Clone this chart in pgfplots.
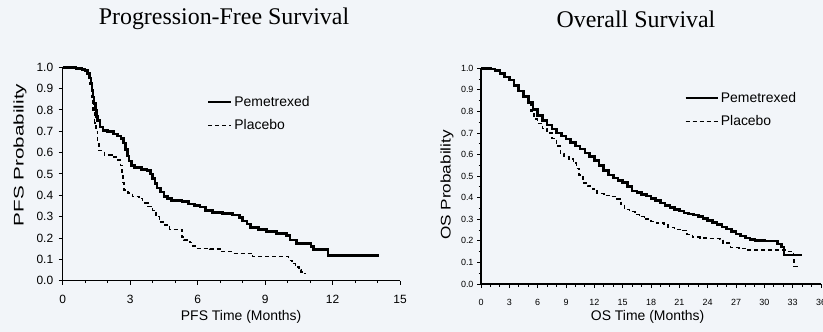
\documentclass[border=0pt]{standalone}
\usepackage{pgfplots}
\pgfplotsset{compat=1.18}
\usepackage{fontspec}
\setmainfont{Liberation Sans}
\newfontfamily\titlefont{Liberation Serif}
\definecolor{bgc}{RGB}{242,245,249}
\begin{document}
\begin{tikzpicture}
\useasboundingbox (0,0) rectangle (823bp,332bp);
\fill[bgc] (0,0) rectangle (823bp,332bp);
\node[anchor=base] at (224bp,307bp) {\titlefont\fontsize{24}{28}\selectfont Progression-Free Survival};
\node[anchor=base] at (636bp,304bp) {\titlefont\fontsize{24}{28}\selectfont Overall Survival};
\pgfplotsset{
  km/.style={
    scale only axis, anchor=south west,
    axis x line=bottom, axis y line=left,
    axis line style={-, line width=1.5bp, black},
    tick align=outside,
    tick style={line width=1bp, black},
    major tick length=4bp, minor tick length=2.5bp,
    /pgf/number format/assume math mode=true,
    yticklabel style={/pgf/number format/fixed, /pgf/number format/fixed zerofill, /pgf/number format/precision=1},
    ytick={0,0.1,0.2,0.3,0.4,0.5,0.6,0.7,0.8,0.9,1},
    ymin=0, ymax=1, clip=false,
    legend cell align=left,
    legend style={draw=none, fill=none, anchor=north west, row sep=8bp,
      font=\fontsize{14}{16}\selectfont, inner sep=0pt},
  },
}
\begin{axis}[km,
  at={(62.7bp,51.3bp)}, width=337.3bp, height=213.4bp,
  xmin=0, xmax=15, xtick={0,3,6,9,12,15}, minor x tick num=2,
  ticklabel style={font=\fontsize{12}{14}\selectfont},
  xticklabel shift=7bp,
  yticklabel shift=2bp,
  ylabel={\scalebox{1.48}[1]{PFS Probability}},
  ylabel style={at={(axis description cs:-0.1266,0.589)}, anchor=center, font=\fontsize{14}{16}\selectfont},
  legend style={at={(axis cs:6.4,0.875)}},
  legend image code/.code={\draw[#1] (0bp,0bp) -- (23bp,0bp);},
]
\addplot[const plot, black, line width=2.6bp] coordinates {
(0,1.0)(0.6,0.995)(0.85,0.99)(1.0,0.985)(1.1,0.97)(1.2,0.95)(1.25,0.925)(1.3,0.89)(1.35,0.86)(1.4,0.83)(1.45,0.80)(1.5,0.77)(1.55,0.75)(1.65,0.72)(1.8,0.705)(2.0,0.698)(2.25,0.688)(2.45,0.678)(2.6,0.665)(2.7,0.645)(2.8,0.615)(2.88,0.585)(2.95,0.56)(3.05,0.54)(3.2,0.53)(3.5,0.522)(3.75,0.515)(3.9,0.5)(4.0,0.48)(4.1,0.455)(4.2,0.435)(4.35,0.415)(4.5,0.395)(4.65,0.385)(4.85,0.375)(5.3,0.37)(5.6,0.36)(5.85,0.352)(6.1,0.345)(6.35,0.33)(6.65,0.32)(7.1,0.316)(7.55,0.308)(7.85,0.295)(8.0,0.28)(8.2,0.265)(8.35,0.25)(8.7,0.24)(9.05,0.23)(9.5,0.222)(9.95,0.212)(10.1,0.19)(10.4,0.175)(11.05,0.16)(11.15,0.145)(11.8,0.118)(14.05,0.118)
};
\addlegendentry{Pemetrexed}
\addplot[const plot, black, line width=1.5bp, dash pattern=on 4bp off 3bp] coordinates {
(0,1.0)(0.6,0.995)(0.9,0.985)(1.1,0.965)(1.2,0.92)(1.28,0.86)(1.35,0.80)(1.42,0.74)(1.48,0.70)(1.55,0.64)(1.62,0.61)(1.85,0.59)(2.2,0.58)(2.45,0.565)(2.57,0.54)(2.63,0.50)(2.68,0.46)(2.72,0.425)(2.9,0.41)(3.1,0.395)(3.4,0.385)(3.55,0.365)(3.8,0.348)(4.0,0.33)(4.15,0.30)(4.3,0.275)(4.55,0.26)(4.75,0.24)(5.3,0.205)(5.4,0.19)(5.65,0.178)(5.8,0.163)(5.95,0.152)(6.55,0.148)(7.0,0.136)(7.55,0.128)(8.45,0.113)(10.05,0.095)(10.2,0.08)(10.35,0.065)(10.5,0.05)(10.6,0.04)(10.77,0.035)
};
\addlegendentry{Placebo}
\node[font=\fontsize{14}{16}\selectfont, anchor=center] at (rel axis cs:0.529,-0.17) {PFS Time (Months)};
\end{axis}
\begin{axis}[km,
  at={(481bp,48bp)}, width=340bp, height=215.7bp,
  xmin=0, xmax=36, xtick={0,3,...,36}, minor x tick num=2, minor y tick num=1,
  ticklabel style={font=\fontsize{9}{11}\selectfont},
  xticklabel shift=8bp,
  ylabel={\scalebox{1.23}[1]{OS Probability}},
  ylabel style={at={(axis description cs:-0.1,0.459)}, anchor=center, font=\fontsize{14}{16}\selectfont},
  legend style={at={(axis cs:21.5,0.90)}},
  legend image code/.code={\draw[#1] (0bp,0bp) -- (32bp,0bp);},
]
\addplot[const plot, black, line width=2.6bp] coordinates {
(0,1.0)(1.0,0.997)(1.5,0.99)(2.0,0.975)(2.5,0.96)(3.0,0.945)(3.5,0.92)(4.0,0.895)(4.5,0.87)(5.0,0.842)(5.5,0.81)(6.0,0.78)(6.5,0.758)(7.0,0.737)(7.5,0.718)(8.0,0.70)(8.5,0.686)(9.0,0.672)(9.5,0.656)(10.0,0.64)(10.5,0.625)(11.0,0.608)(11.5,0.59)(12.0,0.573)(12.5,0.55)(13.0,0.525)(13.5,0.506)(14.0,0.492)(14.5,0.48)(15.0,0.47)(15.5,0.452)(16.0,0.432)(16.5,0.423)(17.0,0.416)(17.5,0.408)(18.0,0.397)(18.5,0.386)(19.0,0.375)(19.5,0.364)(20.0,0.355)(20.5,0.345)(21.0,0.338)(21.5,0.33)(22.0,0.325)(22.5,0.32)(23.0,0.313)(23.5,0.305)(24.0,0.295)(24.5,0.284)(25.0,0.275)(25.5,0.265)(26.0,0.255)(26.5,0.243)(27.0,0.232)(27.5,0.222)(28.0,0.213)(28.5,0.206)(29.0,0.203)(30.0,0.2)(31.4,0.185)(31.8,0.172)(32.1,0.135)(34.0,0.135)
};
\addlegendentry{Pemetrexed}
\addplot[const plot, black, line width=1.5bp, dash pattern=on 4bp off 3bp] coordinates {
(0,1.0)(1.0,0.997)(1.5,0.99)(2.0,0.975)(2.5,0.96)(3.0,0.945)(3.5,0.92)(4.0,0.895)(4.5,0.87)(5.0,0.842)(5.3,0.80)(5.6,0.765)(6.0,0.745)(6.5,0.72)(7.0,0.70)(7.5,0.675)(8.0,0.64)(8.4,0.605)(8.8,0.59)(9.3,0.58)(9.8,0.56)(10.1,0.535)(10.4,0.505)(10.8,0.468)(11.3,0.455)(11.8,0.44)(12.3,0.42)(13.0,0.41)(13.8,0.405)(14.4,0.395)(14.8,0.37)(15.2,0.345)(15.7,0.335)(16.3,0.322)(16.8,0.312)(17.3,0.302)(18.0,0.29)(18.6,0.283)(19.4,0.278)(19.8,0.262)(20.5,0.252)(21.4,0.248)(21.8,0.23)(22.4,0.218)(23.2,0.213)(24.2,0.21)(25.3,0.207)(25.6,0.19)(26.4,0.17)(27.3,0.165)(28.1,0.158)(32.0,0.158)(32.4,0.15)(33.1,0.134)(33.15,0.08)(33.6,0.08)
};
\addlegendentry{Placebo}
\node[font=\fontsize{14}{16}\selectfont, anchor=center] at (rel axis cs:0.49,-0.153) {OS Time (Months)};
\end{axis}
\end{tikzpicture}
\end{document}
